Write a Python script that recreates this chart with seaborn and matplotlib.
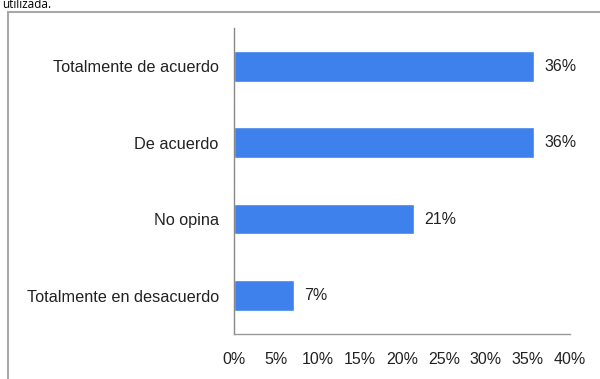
import matplotlib
matplotlib.use("Agg")
import matplotlib.pyplot as plt
import seaborn as sns
import pandas as pd
from matplotlib.patches import Rectangle
from matplotlib.ticker import FixedLocator

# Datos
categorias = ["Totalmente de acuerdo", "De acuerdo", "No opina", "Totalmente en desacuerdo"]
porcentajes = [35.7, 35.7, 21.4, 7.1]
etiquetas = ["36%", "36%", "21%", "7%"]
ticks_x = [0, 5, 10, 15, 20, 25, 30, 35, 40]

df = pd.DataFrame({"categoria": categorias, "porcentaje": porcentajes})

sns.set_style("white")
plt.rcParams["font.family"] = ["Liberation Sans", "DejaVu Sans"]

fig = plt.figure(figsize=(6, 3.79), dpi=100)
ax = fig.add_axes([0.39, 0.119, 0.56, 0.807])

sns.barplot(data=df, x="porcentaje", y="categoria", orient="h", color="#3E80EC",
            saturation=1, width=0.4, ax=ax)

for i, (v, t) in enumerate(zip(porcentajes, etiquetas)):
    ax.text(v + 1.3, i, t, va="center", ha="left", fontsize=11.5, color="#222222")

ax.set_xlim(0, 40)
ax.set_ylim(3.5, -0.5)
ax.set_xticks(ticks_x)
ax.set_xticklabels([f"{t}%" for t in ticks_x], fontsize=11.5, color="#222222")
ax.set_yticklabels(categorias, fontsize=11.7, color="#222222")
ax.yaxis.set_minor_locator(FixedLocator([-0.5, 0.5, 1.5, 2.5, 3.5]))
ax.tick_params(axis="y", which="major", length=0, pad=11)
ax.tick_params(axis="y", which="minor", length=3, width=0.8, color="#777777", direction="out")
ax.tick_params(axis="x", length=6, width=0.8, color="#999999", direction="out", pad=7)
ax.set_xlabel("")
ax.set_ylabel("")

for s in ["top", "right"]:
    ax.spines[s].set_visible(False)
ax.spines["left"].set_color("#888888")
ax.spines["bottom"].set_color("#999999")
ax.spines["left"].set_linewidth(1)
ax.spines["bottom"].set_linewidth(1)

# Marco exterior
fig.patches.append(Rectangle((8 / 600, -0.05), 1.0, 367 / 379 + 0.05, transform=fig.transFigure,
                             fill=False, edgecolor="#a8a8a8", linewidth=1.5))

# Texto de la pagina sobre el grafico
fig.text(0.004, 367.5 / 379, "utilizada.", fontsize=8.5, color="black", ha="left", va="bottom",
         family=["Open Sans", "DejaVu Sans"])

fig.savefig("out.png", dpi=100)
